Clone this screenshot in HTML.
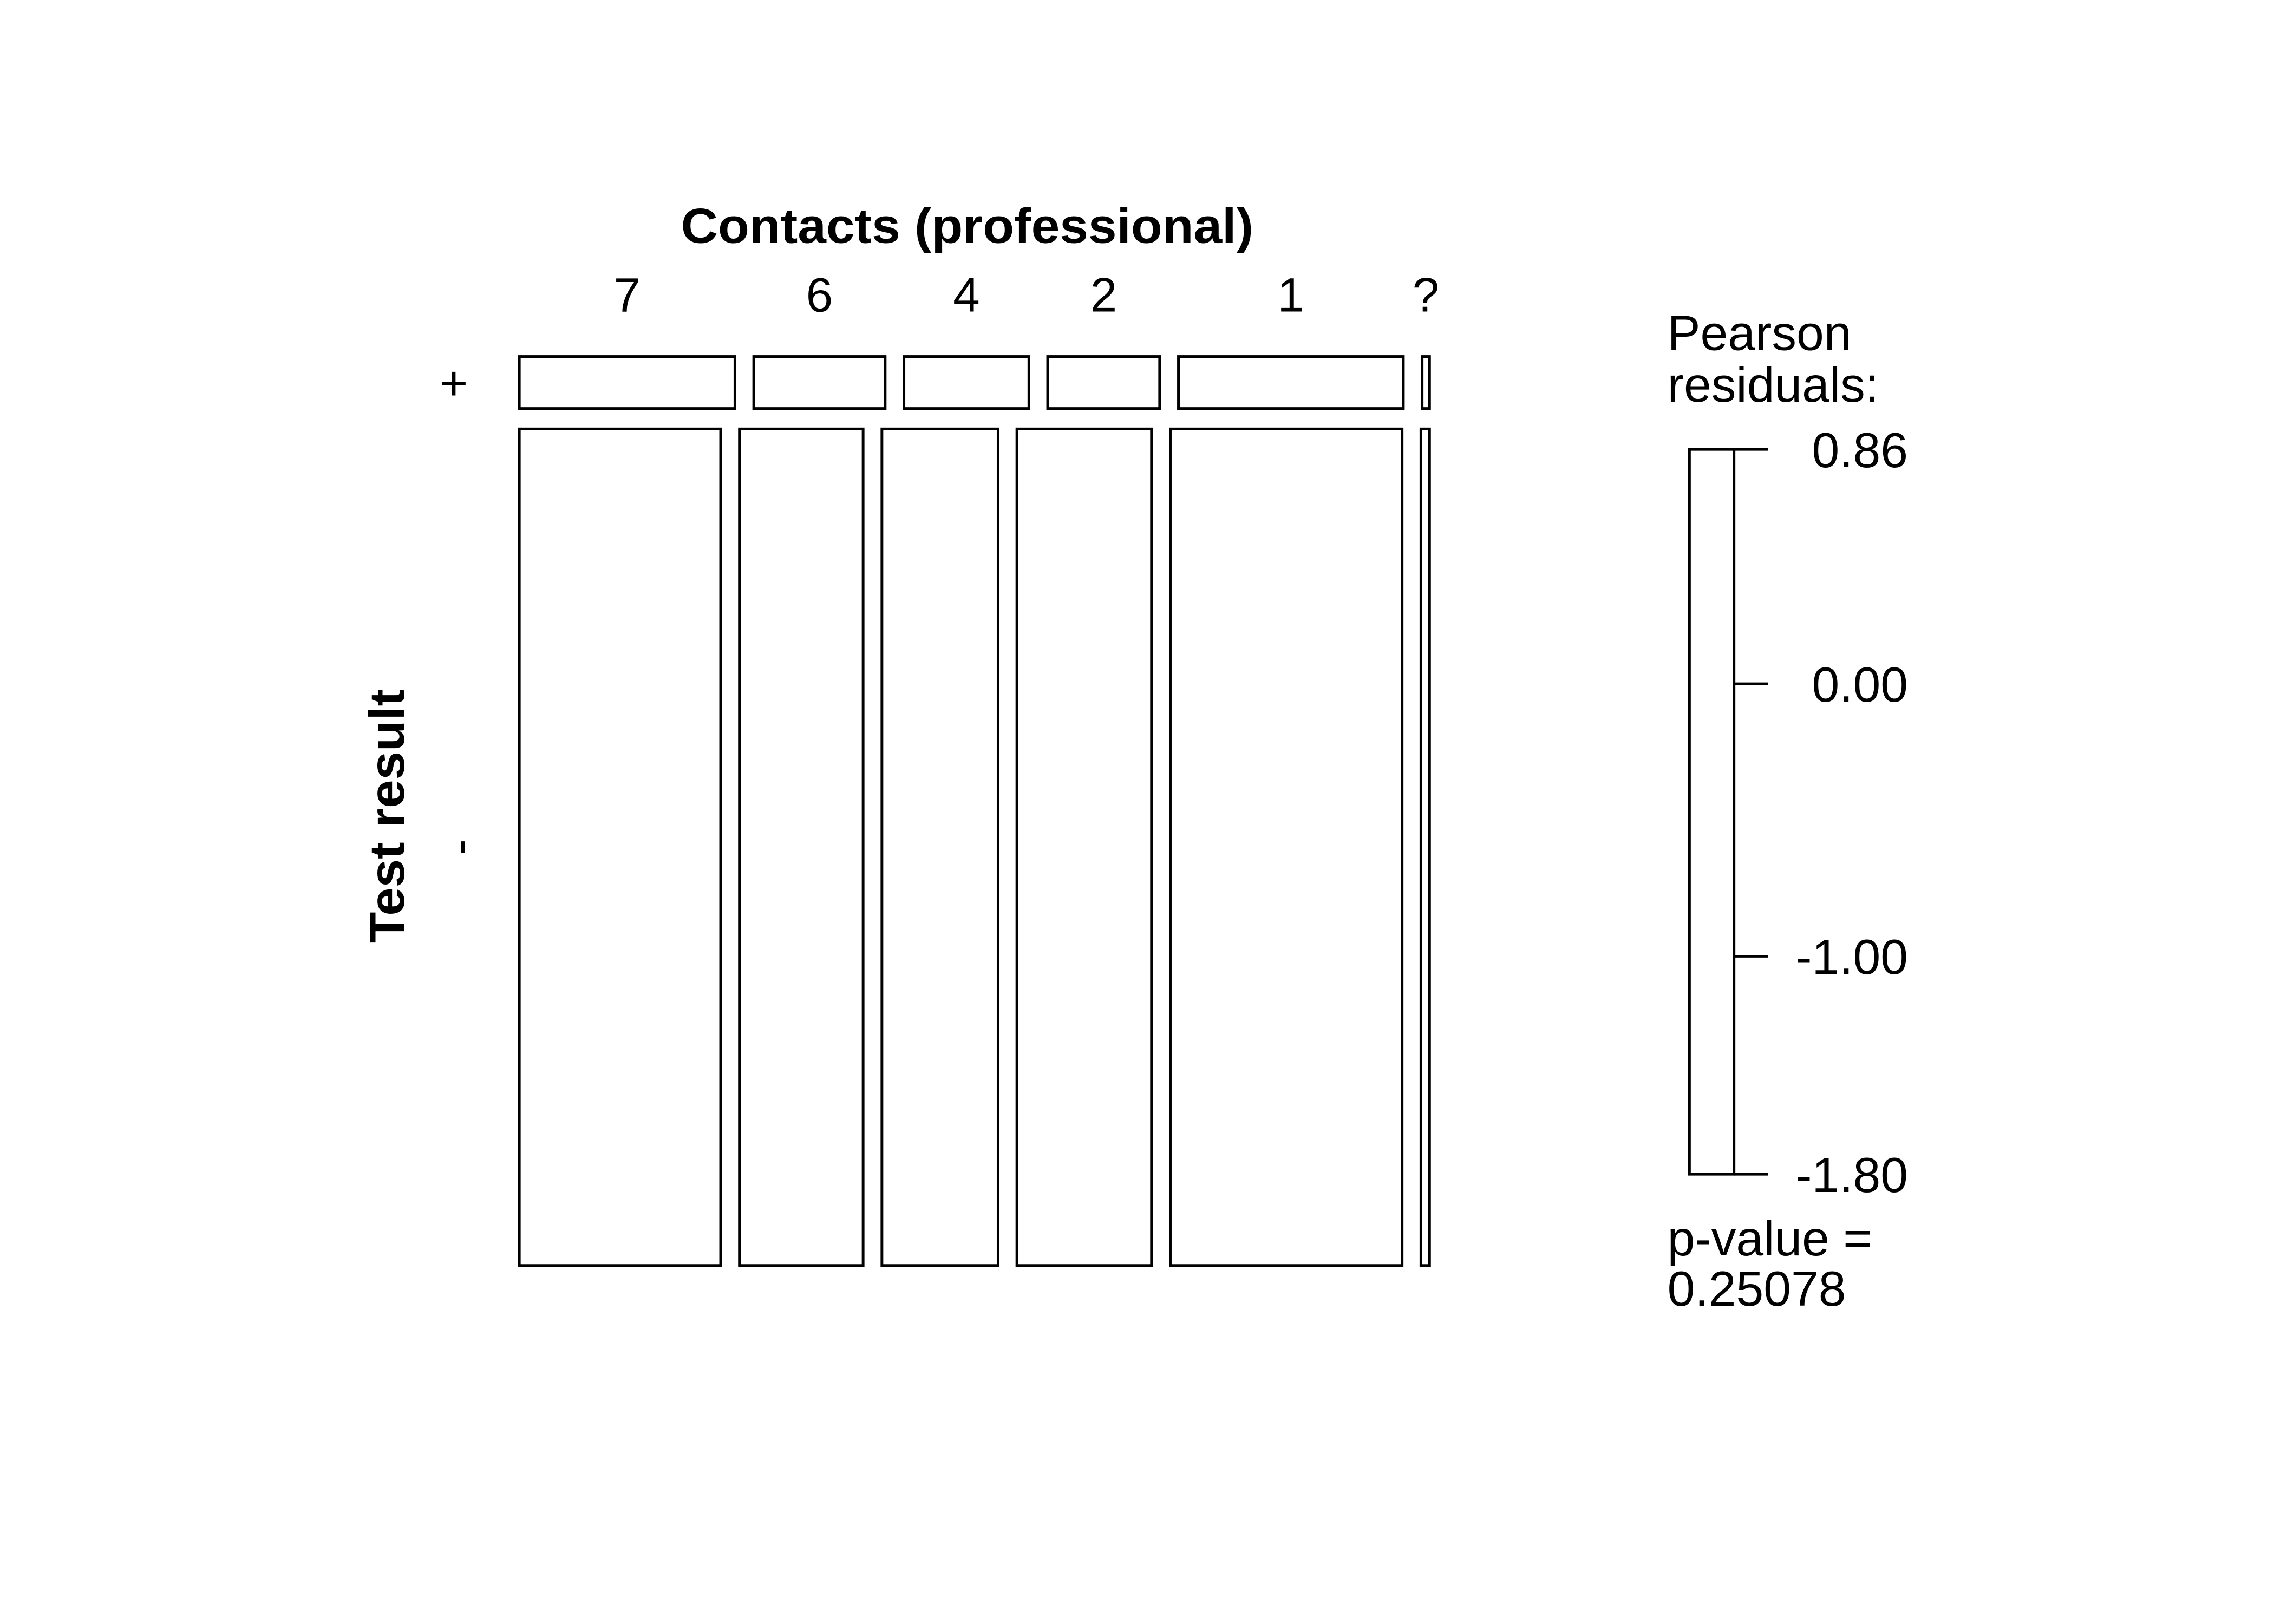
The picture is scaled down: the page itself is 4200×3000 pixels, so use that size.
<!DOCTYPE html>
<html><head><meta charset="utf-8"><style>
html,body{margin:0;padding:0;background:#fff;}
svg{display:block;}
text{font-family:"Liberation Sans",sans-serif;fill:#000;}
</style></head><body>
<svg id="chart" width="4200" height="3000" viewBox="0 0 4234.5 3024.7">
<text x="1801" y="452" font-size="92" font-weight="bold" text-anchor="middle" textLength="1066" lengthAdjust="spacingAndGlyphs">Contacts (professional)</text>
<text transform="translate(752,1520) rotate(-90)" font-size="92" font-weight="bold" text-anchor="middle" textLength="473" lengthAdjust="spacingAndGlyphs">Test result</text>
<g id="cells"></g>
<g id="legend">
<text x="3105" y="652" font-size="92">Pearson</text>
<text x="3105" y="748" font-size="92">residuals:</text>
<rect x="3146" y="837" width="83" height="1350" fill="#fff" stroke="#000" stroke-width="5"/>
<text x="3105" y="2338" font-size="92">p-value =</text>
<text x="3105" y="2432" font-size="92">0.25078</text>
</g>
</svg>
<script>
const categories = ["7","6","4","2","1","?"];
const rowLabels = ["+","-"];
const positiveCounts = [23.3,14.2,13.5,12.1,24.3,0.8];
const negativeCounts = [350,215,202,234,403,15];
const legendTicks = [0.86,0.00,-1.00,-1.80];
const legendTickLabels = ["0.86","0.00","-1.00","-1.80"];

const NS="http://www.w3.org/2000/svg";
const X0=967, X1=2662, Y0=664, Y1=2357, GAPX=35, GAPY=38;
const cells=document.getElementById('cells');
function sum(a){return a.reduce((s,v)=>s+v,0);}
const rows=[positiveCounts,negativeCounts];
const totalAll=sum(positiveCounts)+sum(negativeCounts);
const availH=(Y1-Y0)-GAPY*(rows.length-1);
let y=Y0;
rows.forEach((counts,ri)=>{
  const h=availH*sum(counts)/totalAll;
  const availW=(X1-X0)-GAPX*(counts.length-1);
  let x=X0;
  counts.forEach((c,ci)=>{
    const w=availW*c/sum(counts);
    const r=document.createElementNS(NS,'rect');
    r.setAttribute('x',x);r.setAttribute('y',y);
    r.setAttribute('width',Math.max(w,1));r.setAttribute('height',h);
    r.setAttribute('fill','#fff');r.setAttribute('stroke','#000');r.setAttribute('stroke-width','5');
    
    
    cells.appendChild(r);
    if(ri===0){
      const t=document.createElementNS(NS,'text');
      t.setAttribute('x',x+w/2);t.setAttribute('y',580);
      t.setAttribute('font-size','90');t.setAttribute('text-anchor','middle');
      t.textContent=categories[ci];
      
      
      cells.appendChild(t);
    }
    x+=w+GAPX;
  });
  const lt=document.createElementNS(NS,'text');
  lt.setAttribute('x',ri===0?845:853);lt.setAttribute('y',y+h/2+32);
  lt.setAttribute('font-size','90');lt.setAttribute('text-anchor','middle');
  if(ri===1){lt.setAttribute('transform','rotate(-90 853 '+(y+h/2)+')');lt.setAttribute('y',y+h/2+32);}
  lt.textContent=rowLabels[ri];
  
  
  cells.appendChild(lt);
  y+=h+GAPY;
});

const legend=document.getElementById('legend');
const LMAX=0.86, LMIN=-1.80, LY0=837, LY1=2187;
function ly(v){return LY0+(LMAX-v)/(LMAX-LMIN)*(LY1-LY0);}
legendTicks.forEach((v,i)=>{
  const yy=ly(v);
  const l=document.createElementNS(NS,'line');
  l.setAttribute('x1',3229);l.setAttribute('x2',3292);l.setAttribute('y1',yy);l.setAttribute('y2',yy);
  l.setAttribute('stroke','#000');l.setAttribute('stroke-width','5');
  
  
  legend.appendChild(l);
  const t=document.createElementNS(NS,'text');
  t.setAttribute('x',3553);t.setAttribute('y',yy+33);
  t.setAttribute('font-size','92');t.setAttribute('text-anchor','end');
  t.textContent=legendTickLabels[i];
  
  
  legend.appendChild(t);
});
</script>
</body></html>
